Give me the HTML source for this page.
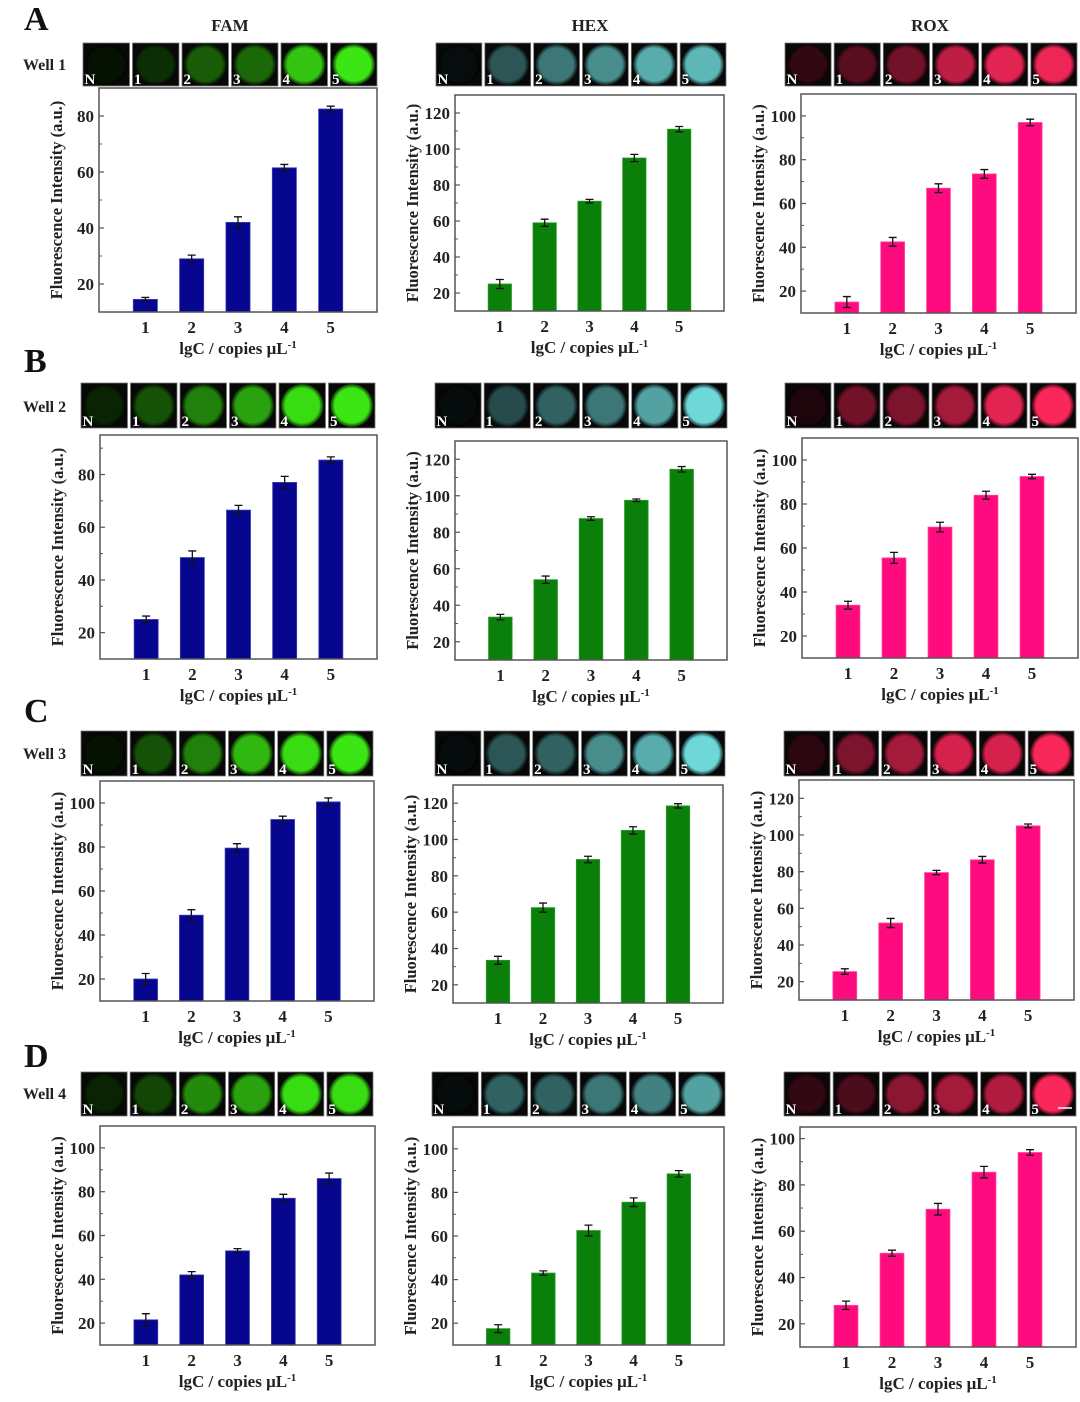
<!DOCTYPE html>
<html><head><meta charset="utf-8"><style>
html,body{margin:0;padding:0;background:#fff;}
svg{display:block;font-family:"Liberation Serif",serif;}
svg text{font-weight:700;font-family:"Liberation Serif",serif;}
</style></head><body>
<svg id="fig" width="1080" height="1402" viewBox="0 0 1080 1402" xmlns="http://www.w3.org/2000/svg"></svg>
<script>
const categories = [1, 2, 3, 4, 5];
const tileLabels = ["N", "1", "2", "3", "4", "5"];
const columnTitles = ["FAM", "HEX", "ROX"];
const panelLetters = ["A", "B", "C", "D"];
const wellLabels = ["Well 1", "Well 2", "Well 3", "Well 4"];

const famA = [14.5, 29, 42, 61.5, 82.5];
const famAErr = [0.7, 1.3, 2, 1.2, 1];
const hexA = [25, 59, 71, 95, 111];
const hexAErr = [2.5, 2, 1, 2, 1.5];
const roxA = [15, 42.5, 67, 73.5, 97];
const roxAErr = [2.5, 2, 2, 2, 1.5];

const famB = [25, 48.5, 66.5, 77, 85.5];
const famBErr = [1.3, 2.5, 1.8, 2.3, 1.2];
const hexB = [33.5, 54, 87.5, 97.5, 114.5];
const hexBErr = [1.5, 2, 1, 0.7, 1.5];
const roxB = [34, 55.5, 69.5, 84, 92.5];
const roxBErr = [1.8, 2.5, 2.2, 1.8, 1];

const famC = [20, 49, 79.5, 92.5, 100.5];
const famCErr = [2.5, 2.5, 2, 1.5, 1.8];
const hexC = [33.5, 62.5, 89, 105, 118.5];
const hexCErr = [2.2, 2.5, 1.8, 2, 1.2];
const roxC = [25.5, 52, 79.5, 86.5, 105];
const roxCErr = [1.5, 2.5, 1.2, 1.8, 1];

const famD = [21.5, 42, 53, 77, 86];
const famDErr = [2.8, 1.5, 1, 1.8, 2.5];
const hexD = [17.5, 43, 62.5, 75.5, 88.5];
const hexDErr = [1.8, 1, 2.5, 2, 1.5];
const roxD = [28, 50.5, 69.5, 85.5, 94];
const roxDErr = [1.8, 1.3, 2.5, 2.5, 1.2];

const tickA = [[20,40,60,80],[20,40,60,80,100,120],[20,40,60,80,100]];
const tickB = [[20,40,60,80],[20,40,60,80,100,120],[20,40,60,80,100]];
const tickC = [[20,40,60,80,100],[20,40,60,80,100,120],[20,40,60,80,100,120]];
const tickD = [[20,40,60,80,100],[20,40,60,80,100],[20,40,60,80,100]];

const tileLevels = [
  [[0.08,0.2,0.4,0.45,0.85,1],[0.06,0.4,0.55,0.65,0.8,0.85],[0.2,0.35,0.45,0.75,0.9,0.95]],
  [[0.15,0.35,0.55,0.7,0.95,1],[0.05,0.35,0.45,0.55,0.75,1],[0.12,0.45,0.5,0.65,0.9,1]],
  [[0.08,0.35,0.55,0.8,0.95,1],[0.05,0.4,0.45,0.65,0.8,1],[0.18,0.5,0.65,0.85,0.85,1]],
  [[0.15,0.3,0.6,0.7,0.95,0.95],[0.05,0.45,0.45,0.55,0.6,0.75],[0.2,0.3,0.55,0.65,0.7,1]]
];

const rowData = [
  [[famA,famAErr],[hexA,hexAErr],[roxA,roxAErr]],
  [[famB,famBErr],[hexB,hexBErr],[roxB,roxBErr]],
  [[famC,famCErr],[hexC,hexCErr],[roxC,roxCErr]],
  [[famD,famDErr],[hexD,hexDErr],[roxD,roxDErr]]
];
const rowTicks = [tickA, tickB, tickC, tickD];

const frames = [
  [[99,377,88,312,10,90],[455,724,95,311,10,130],[801,1076,94,313,10,110]],
  [[100,377,435,659,10,95],[455,727,441,660,10,130],[802,1078,438,658,10,110]],
  [[100,374,781,1001,10,110],[453,723,785,1003,10,130],[799,1074,780,1000,10,130]],
  [[100,375,1126,1345,10,110],[453,724,1127,1345,10,110],[800,1076,1127,1347,10,105]]
];
const strips = [
  [[83,377,43,86],[436,726,43,86],[785,1077,43,86]],
  [[81,375,383,428],[435,727,383,428],[785,1076,383,428]],
  [[81,373,731,776],[435,725,731,776],[784,1074,731,776]],
  [[81,373,1072,1116],[432,725,1072,1116],[784,1076,1072,1116]]
];
const letterY = [30, 372, 722, 1067];
const wellY = [70, 412, 759, 1099];
const barColors = ["#07068f", "#0a7f0a", "#fe0b80"];
const tileColors = [[60,230,20],[110,215,215],[250,40,90]];

const NS = "http://www.w3.org/2000/svg";
const svg = document.getElementById("fig");
function mk(tag, attrs, parent) {
  const e = document.createElementNS(NS, tag);
  for (const k in attrs) e.setAttribute(k, attrs[k]);
  (parent || svg).appendChild(e);
  return e;
}
const defs = mk("defs", {});

columnTitles.forEach((t, i) => {
  const cx = [230, 590, 930][i];
  const e = mk("text", {x: cx, y: 31, "text-anchor": "middle", "font-size": 17, fill: "#222"});
  e.textContent = t;
  
  
});

let gid = 0;
for (let r = 0; r < 4; r++) {
  const L = mk("text", {x: 24, y: letterY[r], "font-size": 34, fill: "#111"});
  L.textContent = panelLetters[r];
  
  
  const W = mk("text", {x: 23, y: wellY[r], "font-size": 16, fill: "#222"});
  W.textContent = wellLabels[r];
  
  

  for (let c = 0; c < 3; c++) {
    const [sx0, sx1, sy0, sy1] = strips[r][c];
    const sg = mk("g", {});
    
    
    const gap = 3;
    const tw = (sx1 - sx0 - gap * 5) / 6;
    const th = sy1 - sy0;
    for (let t = 0; t < 6; t++) {
      const lv = tileLevels[r][c][t];
      const col = tileColors[c];
      const id = "g" + (gid++);
      const rg = mk("radialGradient", {id: id, cx: "50%", cy: "50%", r: "50%"}, defs);
      const rgb = col.map(v => Math.round(v * lv)).join(",");
      mk("stop", {offset: "0%", "stop-color": "rgb(" + rgb + ")"}, rg);
      mk("stop", {offset: "80%", "stop-color": "rgb(" + rgb + ")"}, rg);
      mk("stop", {offset: "100%", "stop-color": "rgb(" + col.map(v => Math.round(v * lv * 0.2)).join(",") + ")"}, rg);
      const tx = sx0 + t * (tw + gap);
      const tile = mk("rect", {x: tx, y: sy0, width: tw, height: th, fill: "#080808", stroke: "#777", "stroke-width": 0.8}, sg);
      
      
      mk("ellipse", {cx: tx + tw / 2, cy: sy0 + th / 2, rx: tw * 0.46, ry: th * 0.48, fill: "url(#" + id + ")"}, sg);
      const tl = mk("text", {x: tx + 1.5, y: sy1 - 2, "font-size": 15, fill: "#fff"}, sg);
      tl.textContent = tileLabels[t];
    }
    if (r === 3 && c === 2) mk("line", {x1: sx1 - 18, x2: sx1 - 4, y1: sy1 - 8, y2: sy1 - 8, stroke: "#fff", "stroke-width": 1.5}, sg);

    const [x0, x1, y0, y1, ymin, ymax] = frames[r][c];
    const xs = v => x0 + (v / 6) * (x1 - x0);
    const ys = v => y1 - (v - ymin) / (ymax - ymin) * (y1 - y0);
    const g = mk("g", {});
    
    
    const [vals, errs] = rowData[r][c];
    const bw = (x1 - x0) / 6 * 0.52;
    vals.forEach((v, i) => {
      const cx = xs(categories[i]);
      const b = mk("rect", {x: cx - bw / 2, y: ys(v), width: bw, height: y1 - ys(v), fill: barColors[c], stroke: c === 0 ? "#3a3ab0" : c === 1 ? "#2a9a2a" : "#ff4aa0", "stroke-width": 0.8}, g);
      
      
      const e = errs[i];
      const eb = mk("path", {d: `M${cx},${ys(v + e)}V${ys(v - e)}M${cx - 4},${ys(v + e)}H${cx + 4}M${cx - 4},${ys(v - e)}H${cx + 4}`, stroke: "#111", "stroke-width": 1.3, fill: "none"}, g);
      
      
      const xl = mk("text", {x: cx, y: y1 + 21, "text-anchor": "middle", "font-size": 17, fill: "#222"}, g);
      xl.textContent = categories[i];
    });
    const fr = mk("rect", {x: x0, y: y0, width: x1 - x0, height: y1 - y0, fill: "none", stroke: "#555", "stroke-width": 1.5}, g);
    
    
    const ticks = rowTicks[r][c];
    ticks.forEach(t => {
      mk("line", {x1: x0, x2: x0 + 5, y1: ys(t), y2: ys(t), stroke: "#555", "stroke-width": 1.2}, g);
      const tl = mk("text", {x: x0 - 5, y: ys(t) + 6, "text-anchor": "end", "font-size": 17, fill: "#222"}, g);
      tl.textContent = t;
      const m = t + 10;
      if (m < ymax) mk("line", {x1: x0, x2: x0 + 3, y1: ys(m), y2: ys(m), stroke: "#555", "stroke-width": 1}, g);
    });
    const xt = mk("text", {x: (x0 + x1) / 2, y: y1 + 42, "text-anchor": "middle", "font-size": 17, fill: "#222"}, g);
    xt.textContent = "lgC / copies μL";
    const sup = mk("tspan", {dy: -6, "font-size": 11}, xt);
    sup.textContent = "-1";
    
    
    const ycx = x0 - 37, ycy = (y0 + y1) / 2;
    const yt = mk("text", {x: ycx, y: ycy, transform: `rotate(-90 ${ycx} ${ycy})`, "text-anchor": "middle", "font-size": 16.5, fill: "#222"}, g);
    yt.textContent = "Fluorescence Intensity (a.u.)";
    
    
  }
}
</script>
</body></html>
